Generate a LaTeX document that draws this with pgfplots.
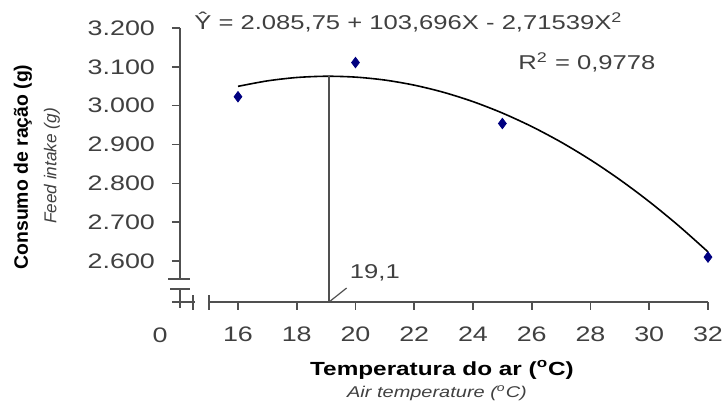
\documentclass[border=0pt]{standalone}
\usepackage{fontspec}
\setmainfont{Liberation Sans}
\newfontfamily\wide[FakeStretch=1.28]{Liberation Sans}
\usepackage{pgfplots}
\pgfplotsset{compat=1.18}
\definecolor{axisgray}{HTML}{505050}
\definecolor{txtgray}{HTML}{404040}
\definecolor{navy}{HTML}{000080}

\begin{document}
\begin{tikzpicture}
\begin{axis}[
  at={(90pt,-151pt)}, anchor=south west,
  scale only axis, width=264pt, height=137pt,
  xmin=14.026, xmax=32, ymin=2494.4, ymax=3200,
  axis lines*=left,
  axis line style={draw=none},
  tick style={draw=axisgray, line width=0.8pt},
  tick align=outside, major tick length=4pt,
  xtick={16,18,...,32}, ytick={2600,2700,...,3200},
  /pgf/number format/assume math mode=true,
  ticklabel style={font=\wide\fontsize{10.5}{12}\selectfont, text=txtgray},
  yticklabel style={xshift=-5pt, /pgf/number format/fixed, /pgf/number format/1000 sep={.}},
  xticklabel style={yshift=-5pt},
  clip=false,
]
% axis lines with breaks
\draw[axisgray, line width=0.8pt] (axis cs:14.026,3200) -- (axis cs:14.026,2553.6);
\draw[axisgray, line width=0.8pt] (axis cs:14.026,2527.9) -- (axis cs:14.026,2479.0);
\draw[axisgray, line width=0.8pt] (axis cs:13.62,2553.6) -- (axis cs:14.37,2553.6);
\draw[axisgray, line width=0.8pt] (axis cs:13.69,2527.9) -- (axis cs:14.37,2527.9);
\draw[axisgray, line width=0.8pt] (axis cs:13.75,2494.4) -- (axis cs:14.54,2494.4);
\draw[axisgray, line width=0.8pt] (axis cs:15.01,2494.4) -- (axis cs:32,2494.4);
\draw[axisgray, line width=0.8pt] (axis cs:14.47,2512.4) -- (axis cs:14.47,2473.8);
\draw[axisgray, line width=0.8pt] (axis cs:15.01,2512.4) -- (axis cs:15.01,2473.8);

% fitted curve, Y = 2085.75 + 103.696X - 2.71539X^2
\addplot[black, line width=0.8pt, smooth] coordinates {
  (16,3049.7) (17,3063.8) (18,3072.5) (19,3075.7) (20,3073.5)
  (21,3065.9) (22,3052.8) (23,3034.3) (24,3010.4) (25,2981.0)
  (26,2946.2) (27,2906.0) (28,2860.4) (29,2809.3) (30,2752.8)
  (31,2690.8) (32,2623.5)};
% maximum at 19.1
\addplot[axisgray, line width=0.8pt] coordinates {(19.1,2494.4) (19.1,3075.7)};
\addplot[axisgray, line width=0.6pt] coordinates {(19.1,2494.4) (19.7,2530.5)};
% observed means
\addplot[only marks, mark=diamond*, mark size=2.6pt, navy, mark options={fill=navy, draw=navy}]
  coordinates {(16,3023) (20,3111) (25,2954) (32,2610)};

\node[text=txtgray, font=\wide\fontsize{10}{12}\selectfont] at (axis cs:21.8,3215.5)
  {Ŷ = 2.085,75 + 103,696X - 2,71539X\textsuperscript{2}};
\node[anchor=east, text=txtgray, font=\wide\fontsize{10}{12}\selectfont] at (axis cs:30.45,3112)
  {R\textsuperscript{2} = 0,9778};
\node[text=txtgray, font=\wide\fontsize{10}{12}\selectfont] at (axis cs:20.66,2569) {19,1};
\end{axis}
\node[text=txtgray, font=\wide\fontsize{10.5}{12}\selectfont] at (80pt,-167.5pt) {0};
\node[rotate=90, font=\bfseries\fontsize{9.7}{12}\selectfont] at (11.5pt,-83.5pt) {Consumo de ração (g)};
\node[rotate=90, text=txtgray, font=\itshape\fontsize{8.6}{10}\selectfont] at (26pt,-83pt) {Feed intake (g)};
\node[font=\wide\bfseries\fontsize{9.5}{12}\selectfont] at (221pt,-185pt) {Temperatura do ar (\textsuperscript{o}C)};
\node[text=txtgray, font=\wide\itshape\fontsize{7.8}{10}\selectfont] at (218.5pt,-196.5pt) {Air temperature (\textsuperscript{o}C)};
\pgfresetboundingbox
\path (0,0) rectangle (362.5pt,-200.5pt);
\end{tikzpicture}
\end{document}
